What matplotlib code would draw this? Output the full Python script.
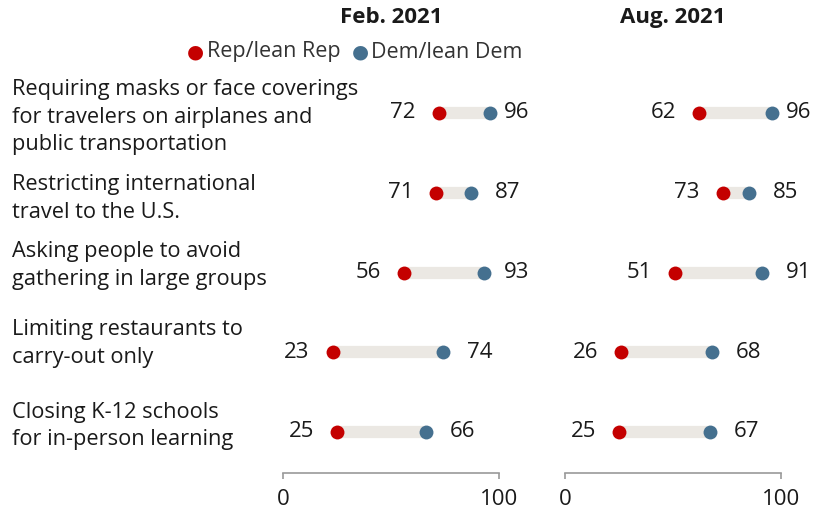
import matplotlib.pyplot as plt
import matplotlib.transforms as mtransforms

# ---------------------------------------------------------------
# Data
# ---------------------------------------------------------------
policies = [
    "Requiring masks or face coverings\nfor travelers on airplanes and\npublic transportation",
    "Restricting international\ntravel to the U.S.",
    "Asking people to avoid\ngathering in large groups",
    "Limiting restaurants to\ncarry-out only",
    "Closing K-12 schools\nfor in-person learning",
]
panel_titles = ["Feb. 2021", "Aug. 2021"]
rep_feb = [72, 71, 56, 23, 25]
dem_feb = [96, 87, 93, 74, 66]
rep_aug = [62, 73, 51, 26, 25]
dem_aug = [96, 85, 91, 68, 67]
legend_labels = ["Rep/lean Rep", "Dem/lean Dem"]

# ---------------------------------------------------------------
# Style
# ---------------------------------------------------------------
plt.rcParams['font.family'] = ['Open Sans', 'DejaVu Sans']
REP_COLOR = '#c40000'
DEM_COLOR = '#45708f'
BAR_COLOR = '#ebe8e3'
TEXT_COLOR = '#1a1a1a'

W, H = 822, 512
fig = plt.figure(figsize=(W / 100, H / 100), dpi=100)

def px_box(x0, x1, ytop, ybot):
    return [x0 / W, 1 - ybot / H, (x1 - x0) / W, (ybot - ytop) / H]

# row 0 sits at y=113px, rows are ~79.75px apart, spine at 473px
row_gap = 79.75
y_bottom = 4 + (473 - 432) / row_gap
ax_top_px = 113 - 0.5 * row_gap
panel_x = [(283, 499), (565, 781)]
label_dy = [4, 6, -7, -9, -6]  # px shift of category text vs. row

axes = []
for (x0, x1), title, reps, dems in zip(panel_x, panel_titles,
                                       [rep_feb, rep_aug], [dem_feb, dem_aug]):
    ax = fig.add_axes(px_box(x0, x1, ax_top_px, 473))
    ax.set_xlim(0, 100)
    ax.set_ylim(y_bottom, -0.5)
    ax.patch.set_alpha(0)
    for s in ['top', 'left', 'right']:
        ax.spines[s].set_visible(False)
    ax.spines['bottom'].set_color('#9a9a9a')
    ax.spines['bottom'].set_linewidth(1.2)
    ax.set_yticks([])
    ax.set_xticks([0, 100])
    ax.set_xticklabels(['0', '100'])
    ax.tick_params(axis='x', direction='out', length=4.5, width=1.2,
                   color='#9a9a9a', pad=7, labelsize=16, labelcolor=TEXT_COLOR)

    units_per_px = 100 / (x1 - x0)
    for i, (r, d) in enumerate(zip(reps, dems)):
        ax.plot([r, d], [i, i], color=BAR_COLOR, lw=8.8,
                solid_capstyle='butt', zorder=1, clip_on=False)
        ax.plot(r, i, 'o', color=REP_COLOR, ms=10, mec='none', zorder=3, clip_on=False)
        ax.plot(d, i, 'o', color=DEM_COLOR, ms=10, mec='none', zorder=3, clip_on=False)
        lo, hi = min(r, d), max(r, d)
        ax.text(lo - 23 * units_per_px, i, str(lo), ha='right', va='center',
                fontsize=16, color=TEXT_COLOR)
        hx = min(hi + 24 * units_per_px, 100 + 5 * units_per_px)
        ax.text(hx, i, str(hi), ha='left', va='center',
                fontsize=16, color=TEXT_COLOR)
    # panel title centred over the panel
    ax.text(50, 0, title, transform=mtransforms.blended_transform_factory(
                ax.transData, fig.transFigure) + mtransforms.ScaledTranslation(
                0, (H - 18) / 100, fig.dpi_scale_trans),
            ha='center', va='center', fontsize=16, fontweight='bold',
            color=TEXT_COLOR)
    axes.append(ax)

# legend
leg_y = 1 - 52 / H
fig.text(195 / W, leg_y, '\u25cf', color=REP_COLOR, fontsize=14,
         ha='center', va='center', family='DejaVu Sans')
fig.text(207 / W, leg_y, legend_labels[0], color='#333333', fontsize=15.5,
         ha='left', va='center')
fig.text(360 / W, leg_y, '\u25cf', color=DEM_COLOR, fontsize=14,
         ha='center', va='center', family='DejaVu Sans')
fig.text(371 / W, leg_y, legend_labels[1], color='#333333', fontsize=15.5,
         ha='left', va='center')

# category labels
ax0 = axes[0]
for i, lab in enumerate(policies):
    trans = mtransforms.blended_transform_factory(fig.transFigure, ax0.transData) + \
        mtransforms.ScaledTranslation(0, -label_dy[i] / 100, fig.dpi_scale_trans)
    fig.text(12 / W, i, lab, transform=trans, ha='left', va='center',
             fontsize=15.7, color=TEXT_COLOR, linespacing=1.42)

fig.savefig('out.png', dpi=100)
